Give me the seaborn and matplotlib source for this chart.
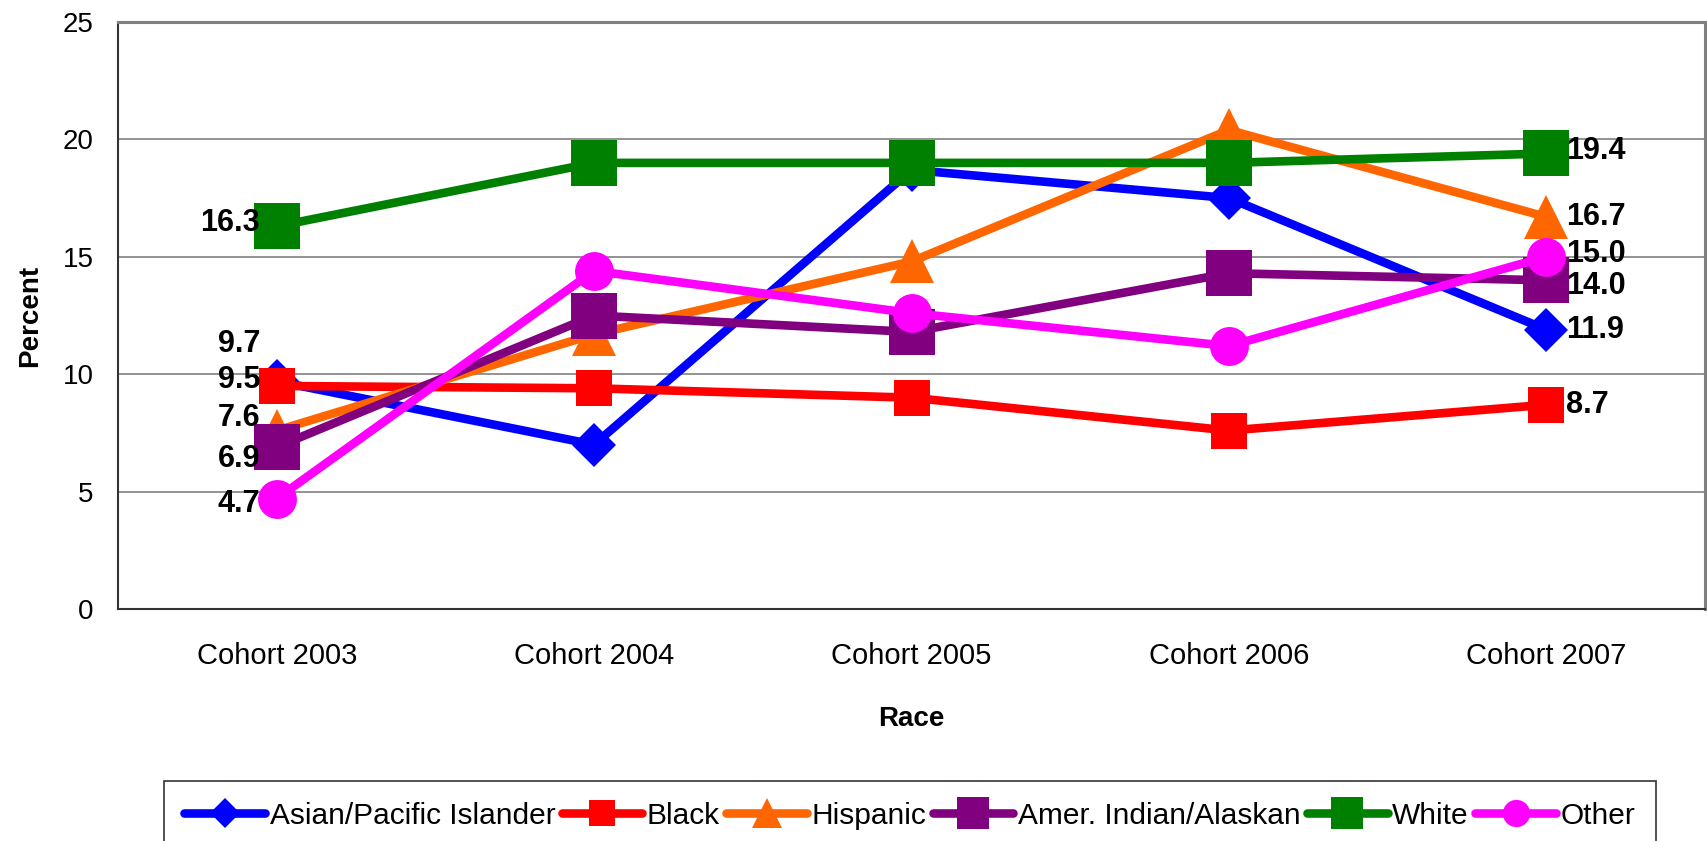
import numpy as np
import pandas as pd
import matplotlib
matplotlib.use('Agg')
import matplotlib.pyplot as plt
import seaborn as sns

# Data
cohorts = ['Cohort 2003', 'Cohort 2004', 'Cohort 2005', 'Cohort 2006', 'Cohort 2007']
asian = [9.7, 7.0, 18.7, 17.5, 11.9]
black = [9.5, 9.4, 9.0, 7.6, 8.7]
hispanic = [7.6, 11.7, 14.8, 20.4, 16.7]
amer_indian = [6.9, 12.5, 11.8, 14.3, 14.0]
white = [16.3, 19.0, 19.0, 19.0, 19.4]
other = [4.7, 14.4, 12.6, 11.2, 15.0]

series_names = ['Asian/Pacific Islander', 'Black', 'Hispanic',
                'Amer. Indian/Alaskan', 'White', 'Other']
series_values = [asian, black, hispanic, amer_indian, white, other]

# styles
colors = ['#0000FF', '#FF0000', '#FF6600', '#800080', '#008000', '#FF00FF']
markers = ['D', 's', '^', 's', 's', 'o']
msizes = [22, 26, 31, 33, 33, 28]
# vertical offsets (points) of the end labels: (first, last)
label_dy = [(27, 0), (4, 0), (9, 0), (-9, -4), (2, 2), (-4, 2)]

sns.set_style('white')
plt.rcParams['font.family'] = ['Liberation Sans', 'DejaVu Sans']
plt.rcParams['text.color'] = 'black'
plt.rcParams['xtick.color'] = 'black'
plt.rcParams['ytick.color'] = 'black'
plt.rcParams['axes.labelcolor'] = 'black'

fig = plt.figure(figsize=(17.07, 8.41), dpi=100)
ax = fig.add_axes([118 / 1707, 1 - 609 / 841, (1705 - 118) / 1707, (609 - 22) / 841])

for name, vals, c, m, ms in zip(series_names, series_values, colors, markers, msizes):
    df = pd.DataFrame({'cohort': cohorts, 'value': vals})
    sns.lineplot(data=df, x='cohort', y='value', ax=ax, color=c, marker=m,
                 markersize=ms, markeredgecolor=c, markeredgewidth=0,
                 label=name, sort=False)
for line in ax.lines:
    line.set_linewidth(6.2)

# end labels
for vals, (dy0, dy1) in zip(series_values, label_dy):
    ax.annotate(f'{vals[0]:.1f}', xy=(0, vals[0]), xytext=(-12, dy0),
                textcoords='offset points', ha='right', va='center',
                fontsize=22, fontweight='bold', color='black')
    ax.annotate(f'{vals[-1]:.1f}', xy=(len(cohorts) - 1, vals[-1]), xytext=(14, dy1),
                textcoords='offset points', ha='left', va='center',
                fontsize=22, fontweight='bold', color='black')

ax.set_xlim(-0.5, len(cohorts) - 0.5)
ax.set_ylim(0, 25)
ax.set_yticks(np.arange(0, 26, 5))
ax.set_xticks(range(len(cohorts)))
ax.set_xticklabels(cohorts)
ax.set_xticks(np.arange(-0.5, len(cohorts), 1), minor=True)
ax.tick_params(axis='x', which='major', length=0, pad=24, labelsize=21)
ax.tick_params(axis='x', which='minor', length=6.5, width=1.4, direction='out', color='black')
ax.tick_params(axis='y', length=6.5, width=1.4, direction='out', pad=11, labelsize=20, color='black')

ax.yaxis.grid(True, color='#808080', linewidth=1.2)
ax.xaxis.grid(False)
ax.set_axisbelow(True)

for side in ['left', 'bottom']:
    ax.spines[side].set_color('#333333')
    ax.spines[side].set_linewidth(1.5)
for side in ['top', 'right']:
    ax.spines[side].set_color('#808080')
    ax.spines[side].set_linewidth(2.2)

ax.set_xlabel('Race', fontsize=20, fontweight='bold', labelpad=26)
ax.set_ylabel('Percent', fontsize=20, fontweight='bold', labelpad=14)

ax.get_legend().remove()
handles, labels = ax.get_legend_handles_labels()
leg = fig.legend(handles, labels, loc='upper center', bbox_to_anchor=(0.533, 0.0713),
                 ncol=6, fontsize=21.5, markerscale=0.7, handlelength=2.7,
                 handletextpad=0.15, columnspacing=0.22, frameon=True,
                 fancybox=False, edgecolor='black', borderpad=0.7,
                 borderaxespad=0)
leg.get_frame().set_linewidth(1.2)

fig.savefig('out.png', dpi=100)
